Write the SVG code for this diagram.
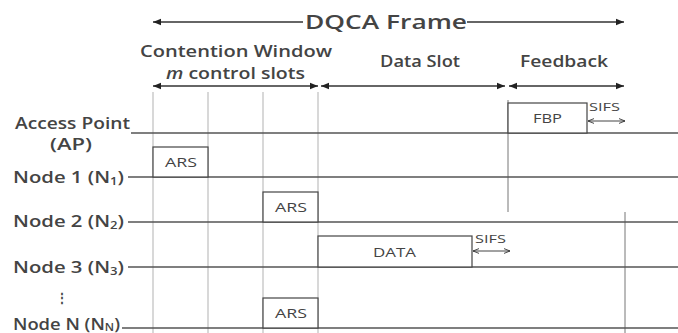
<svg xmlns="http://www.w3.org/2000/svg" width="678" height="333" viewBox="0 0 678 333">
<defs>
<marker id="ah" viewBox="0 0 10 10" refX="10" refY="5" markerWidth="8" markerHeight="8" orient="auto-start-reverse" markerUnits="userSpaceOnUse">
<path d="M0,1 L10,5 L0,9 z" fill="#222"/>
</marker>
<marker id="ao" viewBox="0 0 10 10" refX="10" refY="5" markerWidth="6" markerHeight="6" orient="auto-start-reverse" markerUnits="userSpaceOnUse">
<path d="M0,1 L10,5 L0,9" fill="none" stroke="#333" stroke-width="1.5"/>
</marker>
<style>
text{font-family:"Open Sans","Liberation Sans",sans-serif;fill:#444;font-weight:600}
.lbl{font-size:15.5px}
.hdr{font-size:16px}
.box{fill:#fff;stroke:#444;stroke-width:1.2}
.bt{font-size:13px;font-weight:500}
.tl{stroke:#555;stroke-width:1.5;fill:none}
.grid{stroke:#d8d8d8;stroke-width:2}
.arr{stroke:#333;stroke-width:1.3;fill:none;marker-start:url(#ah);marker-end:url(#ah)}
.sifs{stroke:#444;stroke-width:1;fill:none;marker-start:url(#ao);marker-end:url(#ao)}
.sf{font-size:11.5px;font-weight:500}
.sub{font-size:10px}
</style>
</defs>
<rect width="678" height="333" fill="#fff"/>
<g id="grid">
<line class="grid" x1="153" y1="92" x2="153" y2="333"/>
<line class="grid" x1="208" y1="92" x2="208" y2="333"/>
<line class="grid" x1="263" y1="92" x2="263" y2="333"/>
<line class="grid" x1="318" y1="92" x2="318" y2="333"/>
<line stroke="#777" stroke-width="1" x1="508" y1="100" x2="508" y2="212"/>
<line stroke="#777" stroke-width="1" x1="625" y1="212" x2="625" y2="333"/>
</g>
<g id="connectors">
<line class="arr" x1="153" y1="22" x2="303" y2="22" style="marker-end:none"/>
<line class="arr" x1="467" y1="22" x2="624" y2="22" style="marker-start:none"/>
<line class="arr" x1="153" y1="86" x2="318" y2="86"/>
<line class="arr" x1="321" y1="86" x2="505" y2="86"/>
<line class="arr" x1="509" y1="86" x2="624" y2="86"/>
<line class="sifs" x1="588" y1="121" x2="625" y2="121"/>
<line class="sifs" x1="473" y1="251" x2="510" y2="251"/>
</g>
<g id="headers">
<text x="305" y="29" font-size="19" textLength="162" lengthAdjust="spacingAndGlyphs">DQCA Frame</text>
<text class="hdr" x="140" y="57" textLength="192" lengthAdjust="spacingAndGlyphs">Contention Window</text>
<text class="hdr" x="166" y="79" textLength="139" lengthAdjust="spacingAndGlyphs"><tspan font-style="italic">m</tspan> control slots</text>
<text class="hdr" x="380" y="67" textLength="80" lengthAdjust="spacingAndGlyphs">Data Slot</text>
<text class="hdr" x="520" y="67" textLength="88" lengthAdjust="spacingAndGlyphs">Feedback</text>
</g>
<g id="ap">
<line class="tl" x1="131" y1="133" x2="678" y2="133"/>
<text class="lbl" x="15" y="129" textLength="115" lengthAdjust="spacingAndGlyphs">Access Point</text>
<text class="lbl" x="50" y="150" textLength="42" lengthAdjust="spacingAndGlyphs">(AP)</text>
<rect class="box" x="508" y="103" width="79" height="30"/>
<text class="bt" x="533" y="123" textLength="29" lengthAdjust="spacingAndGlyphs">FBP</text>
<text class="sf" x="589" y="111" textLength="31" lengthAdjust="spacingAndGlyphs">SIFS</text>
</g>
<g id="node1">
<line class="tl" x1="128" y1="177" x2="678" y2="177"/>
<text class="lbl" x="13" y="183" textLength="111" lengthAdjust="spacingAndGlyphs">Node 1 (N<tspan class="sub" dy="2">1</tspan><tspan dy="-2">)</tspan></text>
<rect class="box" x="153" y="147" width="55" height="30"/>
<text class="bt" x="165" y="167" textLength="32" lengthAdjust="spacingAndGlyphs">ARS</text>
</g>
<g id="node2">
<line class="tl" x1="128" y1="222" x2="678" y2="222"/>
<text class="lbl" x="13" y="227" textLength="111" lengthAdjust="spacingAndGlyphs">Node 2 (N<tspan class="sub" dy="2">2</tspan><tspan dy="-2">)</tspan></text>
<rect class="box" x="263" y="192" width="55" height="30"/>
<text class="bt" x="275" y="212" textLength="32" lengthAdjust="spacingAndGlyphs">ARS</text>
</g>
<g id="node3">
<line class="tl" x1="128" y1="267" x2="678" y2="267"/>
<text class="lbl" x="13" y="273" textLength="111" lengthAdjust="spacingAndGlyphs">Node 3 (N<tspan class="sub" dy="2">3</tspan><tspan dy="-2">)</tspan></text>
<rect class="box" x="318" y="236" width="154" height="31"/>
<text class="bt" x="373" y="257" textLength="43" lengthAdjust="spacingAndGlyphs">DATA</text>
<text class="sf" x="475" y="243" textLength="31" lengthAdjust="spacingAndGlyphs">SIFS</text>
</g>
<g id="dots">
<text x="62" y="302" font-size="12" text-anchor="middle">⋮</text>
</g>
<g id="nodeN">
<line class="tl" x1="122" y1="328" x2="678" y2="328"/>
<text class="lbl" x="13" y="330" textLength="107" lengthAdjust="spacingAndGlyphs">Node N (N<tspan class="sub" dy="1">N</tspan><tspan dy="-1">)</tspan></text>
<rect class="box" x="263" y="298" width="55" height="30"/>
<text class="bt" x="275" y="318" textLength="32" lengthAdjust="spacingAndGlyphs">ARS</text>
</g>
</svg>
